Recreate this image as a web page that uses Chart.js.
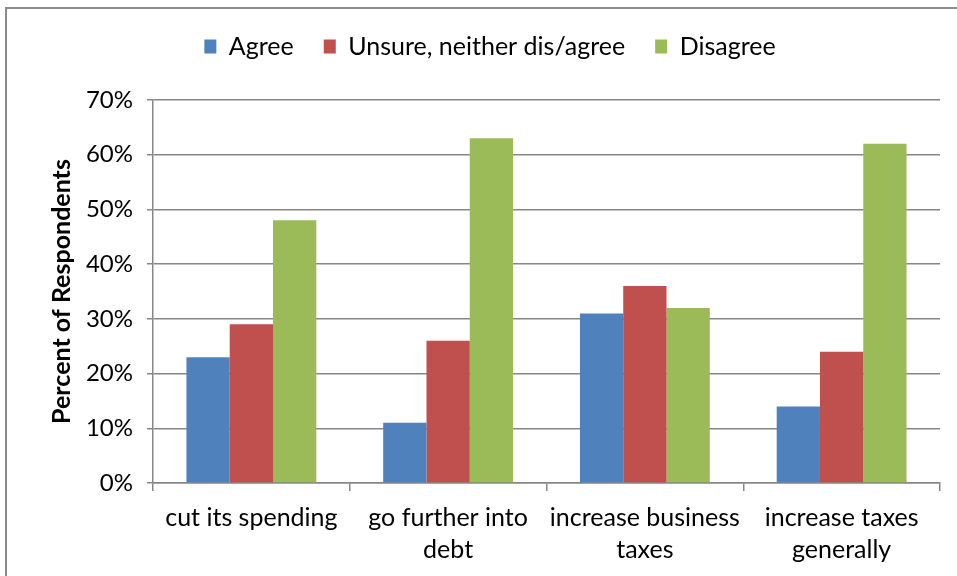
<!DOCTYPE html>
<html>
<head>
<meta charset="utf-8">
<script src="https://cdn.jsdelivr.net/npm/chart.js@4.4.1/dist/chart.umd.min.js"></script>
<style>
  html, body { margin: 0; padding: 0; background: #fff; }
  #wrap { position: relative; width: 957px; height: 576px; overflow: hidden; }
  #frame { position: absolute; left: 5px; top: 7px; width: 1000px; height: 600px; border: 2px solid #8b8b8b; box-sizing: border-box; }
  #box { position: absolute; left: 0; top: 0; width: 957px; height: 576px; }
</style>
</head>
<body>
<div id="wrap">
  <div id="frame"></div>
  <div id="box"><canvas id="chart"></canvas></div>
</div>
<script>
// survey answers, in percent
const questions = [
  ['cut its spending'],
  ['go further into', 'debt'],
  ['increase business', 'taxes'],
  ['increase taxes', 'generally']
];
const agree = [23, 11, 31, 14];
const unsure = [29, 26, 36, 24];
const disagree = [48, 63, 32, 62];
const yTicks = [0, 10, 20, 30, 40, 50, 60, 70];

const fontFamily = 'Lato, "Open Sans", sans-serif';
const gridColor = '#878787';

// extra room under the legend
const legendGap = {
  id: 'legendGap',
  beforeInit(chart) {
    const fit = chart.legend.fit;
    chart.legend.fit = function () {
      fit.call(this);
      this.height += 31;
    };
  }
};

new Chart(document.getElementById('chart'), {
  type: 'bar',
  data: {
    labels: questions,
    datasets: [
      { label: 'Agree', data: agree, backgroundColor: '#4F81BD' },
      { label: 'Unsure, neither dis/agree', data: unsure, backgroundColor: '#C0504D' },
      { label: 'Disagree', data: disagree, backgroundColor: '#9BBB59' }
    ]
  },
  options: {
    responsive: true,
    maintainAspectRatio: false,
    animation: false,
    layout: { padding: { left: 40, top: 4, right: 17, bottom: 0 } },
    datasets: { bar: { barPercentage: 1, categoryPercentage: 0.66 } },
    plugins: {
      tooltip: { enabled: false },
      legend: {
        position: 'top',
        labels: {
          boxWidth: 12,
          boxHeight: 14,
          padding: 30,
          color: '#000',
          font: { family: fontFamily, size: 25 }
        }
      }
    },
    scales: {
      x: {
        grid: { drawOnChartArea: false, drawTicks: true, tickLength: 8, color: gridColor, lineWidth: 1.5 },
        border: { color: gridColor, width: 1.5 },
        ticks: { color: '#000', padding: 11, maxRotation: 0, font: { family: fontFamily, size: 25, lineHeight: 1.28 } },
        afterFit(scale) { scale.height = 93; }
      },
      y: {
        min: 0,
        max: 70,
        afterBuildTicks(scale) { scale.ticks = yTicks.map(v => ({ value: v })); },
        grid: { color: gridColor, lineWidth: 1.5, tickLength: 6 },
        border: { color: gridColor, width: 1.5 },
        ticks: {
          color: '#000',
          padding: 14,
          font: { family: fontFamily, size: 24 },
          callback: v => v + '%'
        },
        title: {
          display: true,
          text: 'Percent of Respondents',
          color: '#000',
          padding: { top: 7 },
          font: { family: fontFamily, size: 25, weight: 'bold' }
        },
        afterFit(scale) { scale.width = 113; }
      }
    }
  },
  plugins: [legendGap]
});
</script>
</body>
</html>
